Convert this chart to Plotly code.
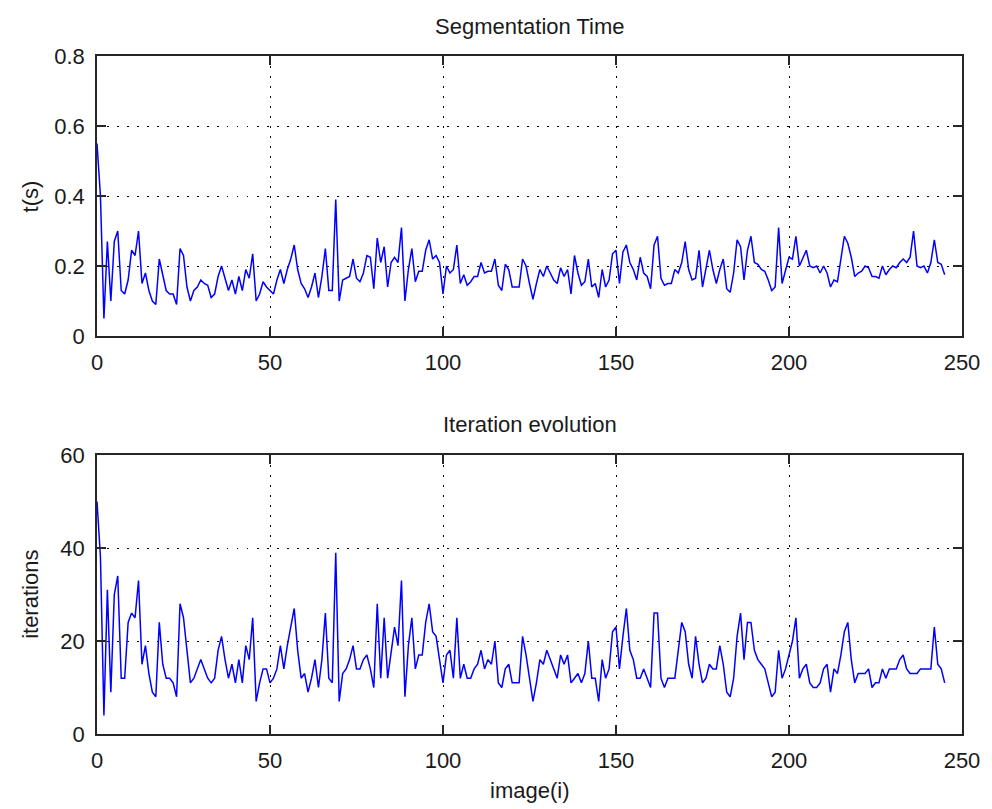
import plotly.graph_objects as go

seg_time = [
    0.55, 0.40, 0.05, 0.27, 0.10, 0.27, 0.30, 0.13, 0.12, 0.16,
    0.245, 0.23, 0.30, 0.15, 0.18, 0.13, 0.10, 0.09, 0.22, 0.17,
    0.13, 0.12, 0.12, 0.09, 0.25, 0.23, 0.14, 0.10, 0.13, 0.14,
    0.16, 0.15, 0.145, 0.11, 0.12, 0.17, 0.20, 0.165, 0.13, 0.16,
    0.12, 0.17, 0.13, 0.19, 0.165, 0.235, 0.10, 0.12, 0.155, 0.14,
    0.13, 0.12, 0.16, 0.19, 0.15, 0.19, 0.22, 0.26, 0.19, 0.15,
    0.135, 0.11, 0.14, 0.18, 0.11, 0.17, 0.25, 0.13, 0.13, 0.39,
    0.10, 0.16, 0.165, 0.17, 0.22, 0.165, 0.155, 0.18, 0.23, 0.225,
    0.135, 0.28, 0.21, 0.255, 0.14, 0.21, 0.225, 0.21, 0.31, 0.10,
    0.19, 0.25, 0.155, 0.185, 0.185, 0.245, 0.275, 0.22, 0.23, 0.21,
    0.12, 0.20, 0.18, 0.19, 0.26, 0.15, 0.175, 0.145, 0.155, 0.17,
    0.17, 0.21, 0.18, 0.185, 0.185, 0.22, 0.145, 0.13, 0.205, 0.19,
    0.14, 0.14, 0.14, 0.22, 0.20, 0.15, 0.105, 0.15, 0.19, 0.17,
    0.20, 0.18, 0.16, 0.15, 0.195, 0.17, 0.19, 0.12, 0.23, 0.18,
    0.145, 0.155, 0.22, 0.14, 0.15, 0.11, 0.19, 0.14, 0.16, 0.235,
    0.245, 0.15, 0.24, 0.26, 0.21, 0.19, 0.16, 0.225, 0.18, 0.17,
    0.135, 0.26, 0.285, 0.165, 0.145, 0.15, 0.15, 0.19, 0.18, 0.21,
    0.27, 0.19, 0.16, 0.165, 0.245, 0.14, 0.19, 0.245, 0.19, 0.15,
    0.19, 0.22, 0.135, 0.125, 0.18, 0.275, 0.255, 0.16, 0.245, 0.285,
    0.21, 0.205, 0.19, 0.185, 0.16, 0.13, 0.14, 0.31, 0.15, 0.19,
    0.225, 0.22, 0.285, 0.20, 0.225, 0.245, 0.20, 0.195, 0.20, 0.18,
    0.20, 0.18, 0.14, 0.16, 0.155, 0.225, 0.285, 0.265, 0.225, 0.17,
    0.18, 0.185, 0.20, 0.195, 0.17, 0.17, 0.165, 0.20, 0.175, 0.19,
    0.20, 0.195, 0.21, 0.22, 0.21, 0.225, 0.30, 0.20, 0.195, 0.20,
    0.18, 0.21, 0.275, 0.21, 0.205, 0.175,
]

iterations = [
    50, 38, 4, 31, 9, 30, 34, 12, 12, 24,
    26, 25, 33, 15, 19, 13, 9, 8, 24, 15,
    12, 12, 11, 8, 28, 25, 18, 11, 12, 14,
    16, 14, 12, 11, 12, 18, 21, 16, 12, 15,
    11, 16, 11, 19, 16, 25, 7, 11, 14, 14,
    11, 12, 14, 19, 14, 19, 23, 27, 18, 12,
    13, 9, 12, 16, 10, 16, 26, 12, 11, 39,
    7, 13, 14, 16, 19, 14, 14, 16, 17, 14,
    10, 28, 12, 25, 12, 18, 23, 19, 33, 8,
    19, 25, 14, 17, 17, 24, 28, 22, 21, 16,
    11, 17, 18, 12, 25, 12, 15, 12, 12, 14,
    15, 18, 14, 16, 15, 20, 11, 10, 14, 15,
    11, 11, 11, 21, 17, 12, 7, 11, 16, 15,
    18, 16, 14, 12, 17, 15, 17, 11, 12, 13,
    11, 13, 20, 12, 12, 7, 16, 12, 14, 22,
    23, 14, 21, 27, 18, 16, 12, 12, 14, 12,
    10, 26, 26, 12, 10, 12, 12, 12, 18, 24,
    22, 15, 12, 21, 15, 11, 12, 15, 14, 14,
    19, 15, 9, 8, 12, 21, 26, 16, 24, 24,
    18, 16, 15, 14, 11, 8, 9, 18, 12, 14,
    17, 20, 25, 12, 14, 15, 11, 10, 10, 11,
    14, 15, 9, 14, 13, 17, 22, 24, 16, 11,
    13, 13, 13, 14, 10, 11, 11, 14, 12, 14,
    14, 14, 16, 17, 14, 13, 13, 13, 14, 14,
    14, 14, 23, 15, 14, 11,
]

image_idx = list(range(len(seg_time)))

x_ticks = [0, 50, 100, 150, 200, 250]
x_ticktext = ["0", "50", "100", "150", "200", "250"]
t_ticks = [0, 0.2, 0.4, 0.6, 0.8]
t_ticktext = ["0", "0.2", "0.4", "0.6", "0.8"]
it_ticks = [0, 20, 40, 60]
it_ticktext = ["0", "20", "40", "60"]

FONT = "Liberation Sans, Arial, sans-serif"
FS = 22
AX = "#262626"
GRID_DASH = "1.5px,8.5px"

fig = go.Figure()
fig.add_trace(go.Scatter(x=image_idx, y=seg_time, mode="lines",
                         line=dict(color="#0000ff", width=1.5),
                         xaxis="x", yaxis="y", showlegend=False))
fig.add_trace(go.Scatter(x=image_idx, y=iterations, mode="lines",
                         line=dict(color="#0000ff", width=1.5),
                         xaxis="x2", yaxis="y2", showlegend=False))

common_axis = dict(
    showline=True, linecolor=AX, linewidth=1.5, mirror="ticks",
    ticks="inside", ticklen=9, tickwidth=1.5, tickcolor=AX,
    showgrid=True, gridcolor="#000000", gridwidth=1, griddash=GRID_DASH,
    zeroline=False, tickfont=dict(family=FONT, size=FS, color="#1a1a1a"),
    ticklabelstandoff=6,
)

fig.update_layout(
    width=992, height=809,
    margin=dict(l=97, r=25, t=56, b=75),
    paper_bgcolor="white", plot_bgcolor="white",
    xaxis=dict(domain=[0, 1], anchor="y", range=[0, 250],
               tickvals=x_ticks, ticktext=x_ticktext, **common_axis),
    yaxis=dict(domain=[0.587, 1], anchor="x", range=[0, 0.8],
               tickvals=t_ticks, ticktext=t_ticktext, **common_axis),
    xaxis2=dict(domain=[0, 1], anchor="y2", range=[0, 250],
                tickvals=x_ticks, ticktext=x_ticktext, **common_axis),
    yaxis2=dict(domain=[0, 0.4115], anchor="x2", range=[0, 60],
                tickvals=it_ticks, ticktext=it_ticktext, **common_axis),
    font=dict(family=FONT, size=FS, color="#1a1a1a"),
)

ann_font = dict(family=FONT, size=FS, color="#1a1a1a")
fig.add_annotation(text="Segmentation Time", xref="paper", yref="paper",
                   x=0.5, y=1.0428, xanchor="center", yanchor="middle",
                   showarrow=False, font=ann_font)
fig.add_annotation(text="Iteration evolution", xref="paper", yref="paper",
                   x=0.5, y=0.4558, xanchor="center", yanchor="middle",
                   showarrow=False, font=ann_font)
fig.add_annotation(text="image(i)", xref="paper", yref="paper",
                   x=0.5, y=-0.0826, xanchor="center", yanchor="middle",
                   showarrow=False, font=ann_font)
fig.add_annotation(text="t(s)", xref="paper", yref="paper",
                   x=-0.077, y=0.7935, xanchor="center", yanchor="middle",
                   textangle=-90, showarrow=False, font=ann_font)
fig.add_annotation(text="iterations", xref="paper", yref="paper",
                   x=-0.077, y=0.2058, xanchor="center", yanchor="middle",
                   textangle=-90, showarrow=False, font=ann_font)

fig.write_html("out.html")
